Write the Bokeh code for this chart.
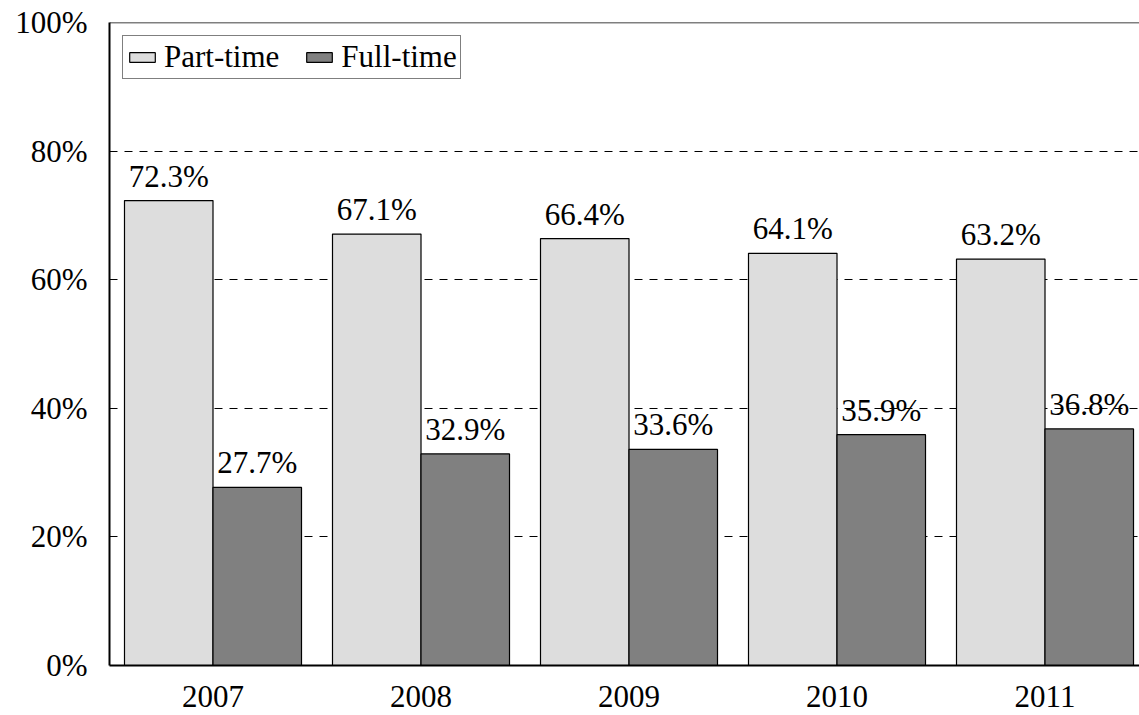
import numpy as np
from bokeh.plotting import figure
from bokeh.models import (ColumnDataSource, FixedTicker, Span, Legend, LegendItem,
                          LabelSet, Range1d)
from bokeh.embed import file_html
from bokeh.resources import INLINE

years = ["2007", "2008", "2009", "2010", "2011"]
part_time = [72.3, 67.1, 66.4, 64.1, 63.2]
full_time = [27.7, 32.9, 33.6, 35.9, 36.8]
y_ticks = [0, 20, 40, 60, 80, 100]

FONT = "Liberation Serif"
FS = "31px"
bar_w = 0.4255
idx = np.arange(len(years))

src_p = ColumnDataSource(dict(x=idx - bar_w / 2, top=part_time,
                              lab=[f"{v:.1f}%" for v in part_time]))
src_f = ColumnDataSource(dict(x=idx + bar_w / 2, top=full_time,
                              lab=[f"{v:.1f}%" for v in full_time]))

p = figure(frame_width=1030, frame_height=643, output_backend="svg",
           toolbar_location=None, x_range=Range1d(-0.4976, 4.4543),
           y_range=Range1d(0, 100), min_border_left=109, min_border_right=0,
           min_border_top=22, min_border_bottom=48)
p.outline_line_color = None
p.background_fill_color = "white"
p.border_fill_color = "white"

rp = p.vbar(x="x", top="top", width=bar_w, source=src_p, fill_color="#DDDDDD",
            line_color="black", line_width=1.2)
rf = p.vbar(x="x", top="top", width=bar_w, source=src_f, fill_color="#808080",
            line_color="black", line_width=1.2)

for src in (src_p, src_f):
    p.add_layout(LabelSet(x="x", y="top", text="lab", source=src, y_offset=14,
                          text_align="center", text_baseline="alphabetic",
                          text_font=FONT, text_font_size=FS, text_color="black"))

p.add_layout(Span(location=100, dimension="width", line_color="black", line_width=1.5))

# axes
p.xaxis.ticker = FixedTicker(ticks=list(idx))
p.xaxis.major_label_overrides = {int(i): y for i, y in zip(idx, years)}
p.yaxis.ticker = FixedTicker(ticks=y_ticks)
p.yaxis.major_label_overrides = {t: f"{t}%" for t in y_ticks}
for ax in (p.xaxis, p.yaxis):
    ax.axis_line_color = "black"
    ax.axis_line_width = 2
    ax.major_tick_line_color = None
    ax.minor_tick_line_color = None
    ax.major_label_text_font = FONT
    ax.major_label_text_font_size = FS
    ax.major_label_text_color = "black"
p.yaxis.major_label_standoff = 16
p.xaxis.major_label_standoff = 14

p.xgrid.grid_line_color = None
p.ygrid.ticker = FixedTicker(ticks=[20, 40, 60, 80])
p.ygrid.grid_line_color = "black"
p.ygrid.grid_line_dash = "8 7"
p.ygrid.grid_line_width = 1

legend = Legend(items=[LegendItem(label="Part-time", renderers=[rp]),
                       LegendItem(label="Full-time", renderers=[rf])],
                location="top_left", orientation="horizontal",
                label_text_font=FONT, label_text_font_size=FS,
                label_text_color="black",
                glyph_width=32, glyph_height=12, label_standoff=6, spacing=24,
                padding=3, margin=13, border_line_color="black",
                border_line_width=1.5, background_fill_alpha=1.0)
p.add_layout(legend)

open("out.html", "w").write(file_html(p, INLINE))
